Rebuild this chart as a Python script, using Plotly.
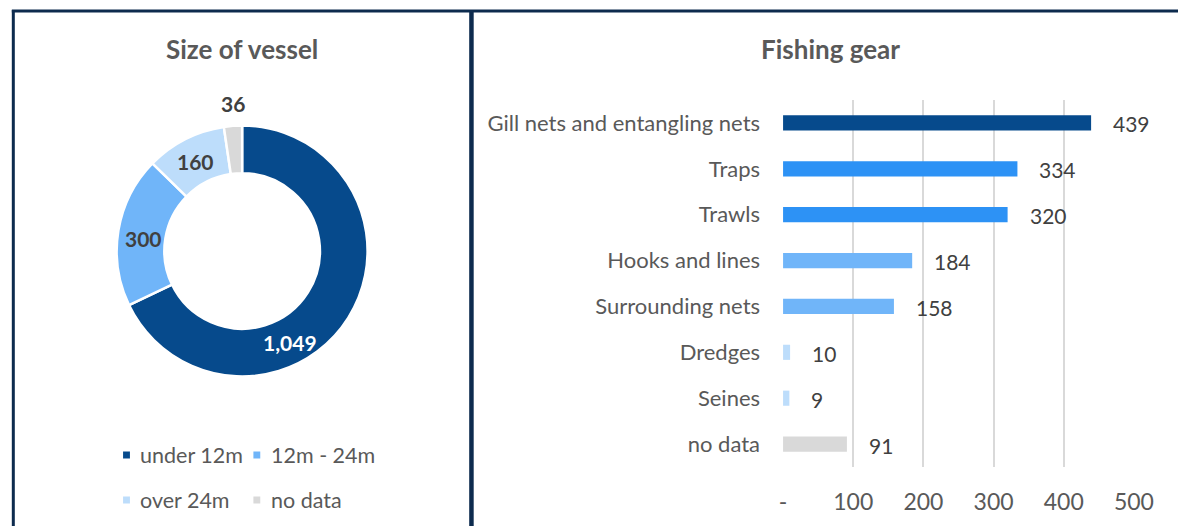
import plotly.graph_objects as go

# ---- data ----
size_labels = ["under 12m", "12m - 24m", "over 24m", "no data"]
size_values = [1049, 300, 160, 36]
size_colors = ["#064A8C", "#70B5F9", "#BDDDFB", "#D9D9D9"]

gear_labels = ["Gill nets and entangling nets", "Traps", "Trawls", "Hooks and lines",
               "Surrounding nets", "Dredges", "Seines", "no data"]
gear_values = [439, 334, 320, 184, 158, 10, 9, 91]
gear_colors = ["#064A8C", "#2D92F5", "#2D92F5", "#70B5F9", "#70B5F9",
               "#BDDDFB", "#BDDDFB", "#D9D9D9"]

x_ticks = [0, 100, 200, 300, 400, 500]
x_tick_text = ["-", "100", "200", "300", "400", "500"]

W, H = 1198, 526
FONT = "Lato"
GRAY = "#595959"
DARK = "#404040"
NAVY = "#0D2B4E"


def px(x):
    return x / W


def py(y):
    return 1 - y / H


fig = go.Figure()

# doughnut: vessel size
fig.add_trace(go.Pie(
    labels=size_labels, values=size_values, sort=False, direction="clockwise",
    rotation=0, hole=0.62, textinfo="none", hoverinfo="label+value",
    marker=dict(colors=size_colors, line=dict(color="white", width=2.5)),
    domain=dict(x=[px(115), px(371)], y=[py(379), py(123)]),
    showlegend=False,
))

# horizontal bars: fishing gear
fig.add_trace(go.Bar(
    y=gear_labels, x=gear_values, orientation="h",
    marker=dict(color=gear_colors, line=dict(width=0)),
    width=0.33, xaxis="x", yaxis="y", showlegend=False,
))

fig.update_layout(
    width=W, height=H,
    margin=dict(l=0, r=0, t=0, b=0),
    paper_bgcolor="white", plot_bgcolor="white",
    font=dict(family=FONT, color=GRAY),
    xaxis=dict(
        domain=[px(795), px(1153)], range=[0, 500], anchor="y",
        tickvals=x_ticks, ticktext=x_tick_text,
        showgrid=True, gridcolor="#D9D9D9", gridwidth=2,
        zeroline=False, showline=False, ticks="",
        tickfont=dict(size=23, color=GRAY, family=FONT),
        ticklabelstandoff=19, fixedrange=True,
    ),
    yaxis=dict(
        domain=[py(467), py(100)], anchor="x", autorange="reversed",
        showgrid=False, zeroline=False, showline=False, ticks="",
        tickfont=dict(size=22, color=GRAY, family=FONT),
        ticklabelstandoff=22, fixedrange=True,
    ),
    showlegend=False,
)

ann = []
shapes = []

# panel titles
ann.append(dict(text="<b>Size of vessel</b>", x=px(243), y=py(49), xref="paper", yref="paper",
                showarrow=False, xanchor="center", yanchor="middle",
                font=dict(size=26, color=GRAY, family=FONT)))
ann.append(dict(text="<b>Fishing gear</b>", x=px(843), y=py(49), xref="paper", yref="paper",
                showarrow=False, xanchor="center", yanchor="middle",
                font=dict(size=26, color=GRAY, family=FONT)))

# doughnut value labels
pie_label_pos = [(292, 342), (142, 238), (195, 161), (234, 103)]
pie_label_color = ["white", DARK, DARK, DARK]
for v, (lx, ly), c in zip(size_values, pie_label_pos, pie_label_color):
    ann.append(dict(text="<b>{:,}</b>".format(v), x=px(lx), y=py(ly), xref="paper", yref="paper",
                    showarrow=False, xanchor="center", yanchor="middle",
                    font=dict(size=21, color=c, family=FONT)))

# bar value labels
for lab, v in zip(gear_labels, gear_values):
    ann.append(dict(text=str(v), x=v, y=lab, xref="x", yref="y", showarrow=False,
                    xanchor="left", yanchor="middle", xshift=20, yshift=-1,
                    font=dict(size=21, color=DARK, family=FONT)))

# legend for the doughnut (two rows of two)
leg_pos = [(125, 455), (258, 455), (125, 500), (258, 500)]
for lab, col, (lx, ly) in zip(size_labels, size_colors, leg_pos):
    shapes.append(dict(type="rect", xref="paper", yref="paper",
                       x0=px(lx - 3.5), x1=px(lx + 3.5), y0=py(ly + 3.5), y1=py(ly - 3.5),
                       fillcolor=col, line=dict(width=0)))
    ann.append(dict(text=lab, x=px(lx + 12), y=py(ly), xref="paper", yref="paper",
                    showarrow=False, xanchor="left", yanchor="middle",
                    font=dict(size=21.5, color=GRAY, family=FONT)))

# panel frame
shapes.append(dict(type="line", xref="paper", yref="paper", x0=px(8), x1=px(1198),
                   y0=py(11), y1=py(11), line=dict(color=NAVY, width=3)))
shapes.append(dict(type="line", xref="paper", yref="paper", x0=px(9.5), x1=px(9.5),
                   y0=py(10), y1=0, line=dict(color=NAVY, width=3)))
shapes.append(dict(type="line", xref="paper", yref="paper", x0=px(477), x1=px(477),
                   y0=py(10), y1=0, line=dict(color=NAVY, width=4.5)))

fig.update_layout(annotations=ann, shapes=shapes)

fig.write_html("out.html", config=dict(displayModeBar=False))
